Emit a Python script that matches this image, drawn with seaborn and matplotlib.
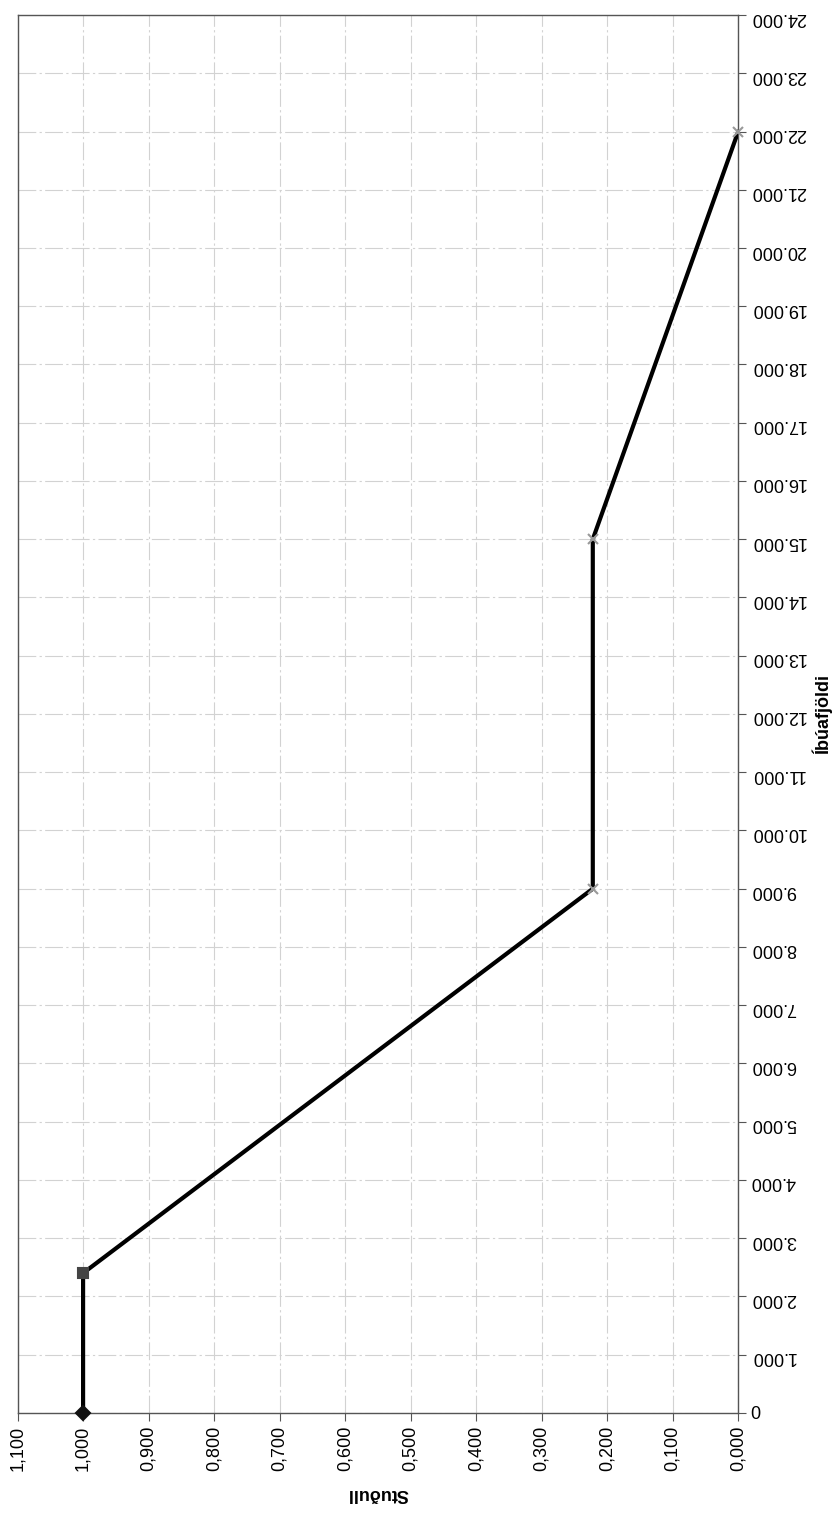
import matplotlib
matplotlib.use("Agg")
import matplotlib.pyplot as plt
import seaborn as sns
import numpy as np
import pandas as pd

# data (Stuðull against Íbúafjöldi)
ibuafjoldi = [0, 2400, 9000, 15000, 22000]
studull = [1.000, 1.000, 0.222, 0.222, 0.000]
point_markers = ["D", "s", "x", "x", "x"]
point_colors = ["#111111", "#444444", "#999999", "#999999", "#999999"]

x_ticks = [round(v * 0.1, 1) for v in range(12)]
y_ticks = list(range(0, 24001, 1000))

df = pd.DataFrame({"Íbúafjöldi": ibuafjoldi, "Stuðull": studull})

sns.set_style("white")
plt.rcParams["font.family"] = ["Liberation Sans", "DejaVu Sans"]

fig = plt.figure(figsize=(8.37, 15.17), dpi=100)
ax = fig.add_axes([0.021, 0.0686, 0.861, 0.9215])

# the page is turned: Stuðull runs right-to-left, Íbúafjöldi runs upward
sns.lineplot(data=df, x="Stuðull", y="Íbúafjöldi", orient="y", estimator=None,
             color="black", linewidth=3.0, ax=ax, zorder=3)
for xv, yv, m, c in zip(studull, ibuafjoldi, point_markers, point_colors):
    ax.plot(xv, yv, marker=m, color=c, markersize=7, markeredgewidth=1.5,
            linestyle="none", zorder=4, clip_on=False)

ax.set_xlim(1.1, 0.0)
ax.set_ylim(0, 24000)

ax.set_xticks(x_ticks)
ax.set_xticklabels([f"{v:.3f}".replace(".", ",") for v in x_ticks],
                   rotation=90, fontsize=13)
ax.set_yticks(y_ticks)
ax.yaxis.tick_right()
ax.set_yticklabels(["0"] + [f"{v // 1000}.000" for v in y_ticks[1:]], fontsize=13)
for i, lab in enumerate(ax.get_yticklabels()):
    if i > 0:
        lab.set_rotation(180)

ax.tick_params(axis="both", direction="out", length=6, width=0.8,
               color="#555555", labelcolor="black", pad=3,
               bottom=True, right=True, left=False)

ax.grid(True, color="#d2d2d2", linewidth=0.8, linestyle=(0, (16, 3, 2, 3)))
for s in ax.spines.values():
    s.set_color("#555555")
    s.set_linewidth(1.0)

ax.set_xlabel("Stuðull", fontsize=13, fontweight="bold", rotation=180,
              labelpad=10, color="black")
ax.yaxis.set_label_position("right")
ax.set_ylabel("Íbúafjöldi", fontsize=13, fontweight="bold", rotation=90,
              labelpad=4, color="black")

fig.savefig("out.png", dpi=100)
